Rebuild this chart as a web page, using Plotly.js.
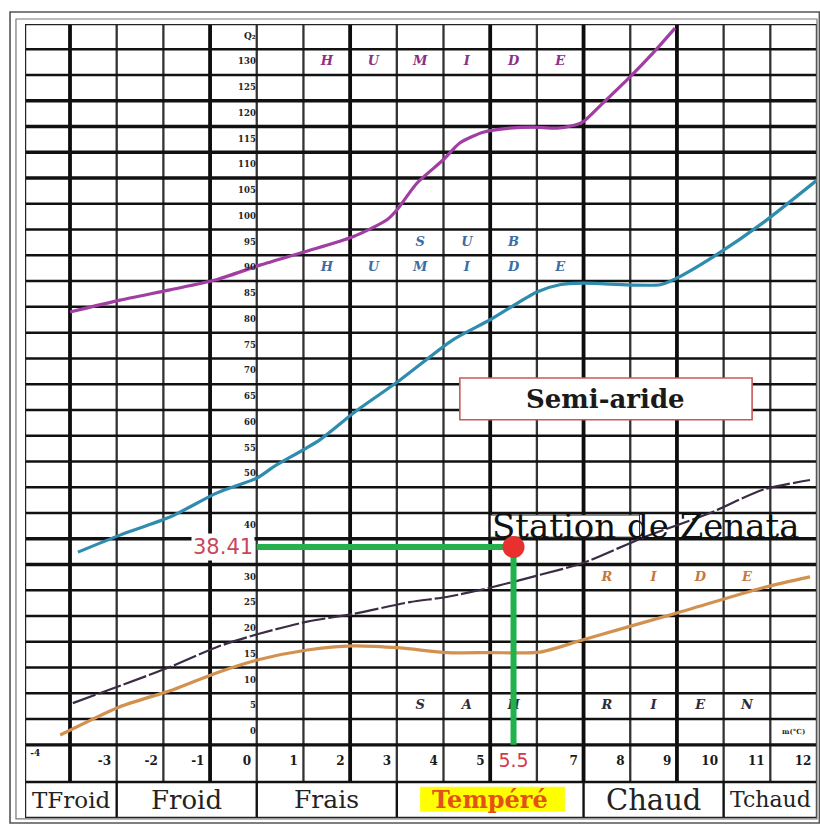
<!DOCTYPE html>
<html>
<head>
<meta charset="utf-8">
<script src="https://cdn.plot.ly/plotly-3.0.1.min.js"></script>
<style>html,body{margin:0;padding:0;background:#fff}</style>
</head>
<body>
<div id="chart" style="width:820px;height:825px"></div>
<script>
// Emberger climagram: Q2 against m (mean minimum of the coldest month, °C)

// Bioclimatic boundary curves (m in °C, Q2)
const humideM   = [-4.0, -2.93, -1.86, -0.89, 0.07, 1.03, 2.06, 2.79, 3.0, 3.43, 3.99, 4.35, 4.85, 5.42, 5.92, 6.43, 6.82, 6.99, 7.42, 7.99, 8.49, 8.96];
const humideQ   = [84.0, 86.3, 88.3, 90.2, 93.1, 95.7, 98.6, 101.9, 103.8, 109.0, 113.5, 116.8, 118.9, 119.7, 119.9, 119.7, 120.3, 120.9, 124.6, 129.6, 134.3, 139.1];

const subHumM   = [-3.83, -2.93, -1.86, -0.85, 0.01, 0.35, 1.35, 2.10, 3.07, 4.20, 5.00, 6.00, 6.49, 6.99, 8.64, 9.00, 9.81, 10.84, 12.0];
const subHumQ   = [37.4, 40.7, 44.2, 48.9, 51.8, 53.9, 59.2, 64.6, 70.8, 78.6, 82.5, 87.9, 89.3, 89.6, 89.3, 90.6, 94.9, 101.3, 109.6];

const semiAridM = [-3.94, -1.86, -0.85, 0.03, 1.08, 2.06, 3.28, 4.07, 5.00, 6.07, 6.99, 8.27, 9.71, 10.84, 11.85];
const semiAridQ = [8.1, 15.1, 19.0, 21.5, 23.9, 25.4, 27.7, 28.7, 30.5, 33.0, 35.3, 40.2, 45.0, 49.5, 51.4];

const aridM     = [-4.21, -2.93, -1.79, -0.85, 0.03, 1.08, 2.06, 3.07, 4.07, 5.00, 6.07, 6.99, 9.00, 10.84, 11.85];
const aridQ     = [1.9, 7.4, 10.7, 14.0, 16.5, 18.4, 19.2, 18.8, 17.9, 17.9, 18.0, 20.4, 25.6, 30.5, 32.6];

// Station
const stationName = 'Station de Zenata';
const stationM = 5.5;
const stationQ = 38.41;

// Axis labels
const qLabels = [0, 5, 10, 15, 20, 25, 30, 40, 50, 55, 60, 65, 70, 75, 80, 85, 90, 95, 100, 105, 110, 115, 120, 125, 130];
const mLabels = [-3, -2, -1, 0, 1, 2, 3, 4, 5, 7, 8, 9, 10, 11, 12];

// Temperature classes (bounds in m)
const classNames  = ['TFroid', 'Froid', 'Frais', 'Tempéré', 'Chaud', 'Tchaud'];
const classBounds = [-4.964, -3, 0, 3, 7, 10, 12];

// Zone lettering: letters and the column (m cell centre) each one sits in
const humideLetters   = ['H', 'U', 'M', 'I', 'D', 'E'];
const humideCols      = [1.5, 2.5, 3.5, 4.5, 5.5, 6.5];
const subLetters      = ['S', 'U', 'B'];
const subCols         = [3.5, 4.5, 5.5];
const aridLetters     = ['R', 'I', 'D', 'E'];
const aridCols        = [7.5, 8.5, 9.5, 10.5];
const saharienLetters = ['S', 'A', 'H', 'R', 'I', 'E', 'N'];
const saharienCols    = [3.5, 4.5, 5.5, 7.5, 8.5, 9.5, 10.5];

// ---- frame geometry ----
const X0 = -4.964, X1 = 12, Y0 = -14.2, Y1 = 139.9;
const LABEL_ROW = -7.2;
const gridCols  = [-4, -3, -2, -1, 0, 1, 2, 3, 4, 5, 6, 7, 8, 9, 10, 11];
const heavyCols = [-4, -1, 2, 5, 7, 9];
const gridRows  = [];
for (let q = 0; q <= 135; q += 5) gridRows.push(q);
const heavyRows = [0, 35, 40, 110, 115, 120, 125];

const shapes = [];
gridCols.forEach(c => {
  const heavy = heavyCols.includes(c);
  shapes.push({type:'line', xref:'x', yref:'y', x0:c, x1:c, y0:LABEL_ROW, y1:Y1, layer:'below',
    line:{color: heavy ? '#0d0d0d' : '#333', width: heavy ? 3.8 : 2.3}});
});
gridRows.forEach(r => {
  const heavy = heavyRows.includes(r);
  shapes.push({type:'line', xref:'x', yref:'y', x0:X0, x1:X1, y0:r, y1:r, layer:'below',
    line:{color:'#111', width: heavy ? 3.4 : 2.5}});
});
shapes.push({type:'line', xref:'x', yref:'y', x0:X0, x1:X1, y0:LABEL_ROW, y1:LABEL_ROW, layer:'below', line:{color:'#111', width:2.5}});
classBounds.slice(1, -1).forEach(b => {
  shapes.push({type:'line', xref:'x', yref:'y', x0:b, x1:b, y0:Y0, y1:LABEL_ROW, layer:'below', line:{color:'#111', width:2.4}});
});
// outer border of the table
shapes.push({type:'rect', xref:'x', yref:'y', x0:X0, x1:X1, y0:Y0, y1:Y1, layer:'below', line:{color:'#222', width:2.4}});
// double frame around the figure
shapes.push({type:'rect', xref:'paper', yref:'paper', x0:-0.0189, x1:1.003, y0:-0.0063, y1:1.0151, line:{color:'#555', width:1.6}});
shapes.push({type:'rect', xref:'paper', yref:'paper', x0:-0.0114, x1:1.0, y0:-0.001, y1:1.0063, line:{color:'#777', width:1.2}});
// white label boxes
shapes.push({type:'rect', xref:'x', yref:'y', x0:stationM - 0.5, x1:8.2, y0:40.3, y1:44.6, layer:'below',
  fillcolor:'#fff', line:{color:'#222', width:1}});
shapes.push({type:'rect', xref:'x', yref:'y', x0:4.35, x1:10.61, y0:63.1, y1:71.2, layer:'below',
  fillcolor:'#fff', line:{color:'#c65a5a', width:1.6}});
// highlight of the station's temperature class
shapes.push({type:'rect', xref:'x', yref:'y', x0:3.5, x1:6.6, y0:-13.0, y1:-8.15, layer:'below',
  fillcolor:'#ffff00', line:{width:0}});

function letterTrace(letters, cols, q, color) {
  return {
    type:'scatter', mode:'text', hoverinfo:'skip', cliponaxis:false,
    x: cols, y: letters.map(() => q), text: letters,
    textposition:'middle center',
    textfont:{family:'DejaVu Serif', size:13, color:color, weight:'bold', style:'italic'}
  };
}

const curveLine = (c, w, dash) => ({color:c, width:w, shape:'spline', smoothing:0.7, dash: dash || 'solid'});

const traces = [
  letterTrace(humideLetters, humideCols, 132.5, '#8c2f86'),
  letterTrace(subLetters, subCols, 97.5, '#3a6ea5'),
  letterTrace(humideLetters, humideCols, 92.5, '#3a6ea5'),
  letterTrace(aridLetters, aridCols, 32.5, '#c8763e'),
  letterTrace(saharienLetters, saharienCols, 7.5, '#2c2c3c'),
  {type:'scatter', mode:'lines', x:humideM, y:humideQ, hoverinfo:'skip', line:curveLine('#a13ea3', 3.2)},
  {type:'scatter', mode:'lines', x:subHumM, y:subHumQ, hoverinfo:'skip', line:curveLine('#2f8caf', 3.2)},
  {type:'scatter', mode:'lines', x:semiAridM, y:semiAridQ, hoverinfo:'skip', line:curveLine('#3a2c44', 2.2, '24px,3px')},
  {type:'scatter', mode:'lines', x:aridM, y:aridQ, hoverinfo:'skip', line:curveLine('#d39150', 3.2)},
  // Q2 tick labels
  {type:'scatter', mode:'text', hoverinfo:'skip', cliponaxis:false,
    x: qLabels.map(() => -0.02), y: qLabels.map(v => v + 2.5), text: qLabels.map(String),
    textposition:'middle left', textfont:{family:'DejaVu Serif', size:8.5, color:'#222', weight:'bold'}},
  {type:'scatter', mode:'text', hoverinfo:'skip', cliponaxis:false,
    x:[-0.02], y:[137.5], text:['Q\u2082'], textposition:'middle left',
    textfont:{family:'DejaVu Serif', size:9, color:'#222', weight:'bold'}},
  // m tick labels
  {type:'scatter', mode:'text', hoverinfo:'skip', cliponaxis:false,
    x: mLabels.map(v => v - 0.12), y: mLabels.map(() => -3.3), text: mLabels.map(String),
    textposition:'middle left', textfont:{family:'DejaVu Serif', size:12, color:'#1a1a1a', weight:'bold'}},
  {type:'scatter', mode:'text', hoverinfo:'skip', cliponaxis:false,
    x:[-4.85], y:[-1.8], text:['-4'], textposition:'middle right',
    textfont:{family:'DejaVu Serif', size:9, color:'#1a1a1a', weight:'bold'}},
  {type:'scatter', mode:'text', hoverinfo:'skip', cliponaxis:false,
    x:[11.5], y:[2.5], text:['m(°C)'], textposition:'middle center',
    textfont:{family:'DejaVu Serif', size:7, color:'#222', weight:'bold'}},
  // station projection lines and point
  {type:'scatter', mode:'lines', hoverinfo:'skip',
    x:[0, stationM, stationM], y:[stationQ, stationQ, 0],
    line:{color:'#22b14c', width:6}},
  {type:'scatter', mode:'markers', hoverinfo:'skip',
    x:[stationM], y:[stationQ], marker:{size:22, color:'#e8312f'}},
  {type:'scatter', mode:'text', hoverinfo:'skip', cliponaxis:false,
    x:[stationM], y:[-3.3], text:[String(stationM)], textposition:'middle center',
    textfont:{family:'DejaVu Sans', size:19, color:'#d23a4c'}}
];

const annotations = [
  {x:0, y:stationQ, xref:'x', yref:'y', text:String(stationQ), showarrow:false, xanchor:'right', xshift:-2,
    bgcolor:'#fff', borderpad:1, font:{family:'DejaVu Sans', size:21, color:'#c9475a'}},
  {x:stationM - 0.5, y:42.4, xref:'x', yref:'y', text:stationName, showarrow:false, xanchor:'left',
    font:{family:'DejaVu Serif', size:34, color:'#111'}},
  {x:7.48, y:67.1, xref:'x', yref:'y', text:'Semi-aride', showarrow:false,
    font:{family:'DejaVu Serif', size:26, color:'#1a1a1a', weight:'bold'}}
];
const classSizes   = [23, 26, 25, 24, 29, 22];
const classColors  = ['#222', '#222', '#222', '#e2511a', '#222', '#222'];
const classWeights = ['normal', 'normal', 'normal', 'bold', 'normal', 'normal'];
classNames.forEach((n, i) => {
  annotations.push({
    x:(classBounds[i] + classBounds[i + 1]) / 2, y:-10.7, xref:'x', yref:'y',
    text:n, showarrow:false,
    font:{family:'DejaVu Serif', size:classSizes[i], color:classColors[i], weight:classWeights[i]}
  });
});

const layout = {
  width:820, height:825,
  margin:{l:25, r:3, t:24, b:7, pad:0},
  paper_bgcolor:'#fff', plot_bgcolor:'#fff',
  showlegend:false,
  xaxis:{range:[X0, X1], visible:false, fixedrange:true},
  yaxis:{range:[Y0, Y1], visible:false, fixedrange:true},
  shapes:shapes,
  annotations:annotations
};

Plotly.newPlot('chart', traces, layout, {staticPlot:true, displayModeBar:false});
</script>
</body>
</html>
